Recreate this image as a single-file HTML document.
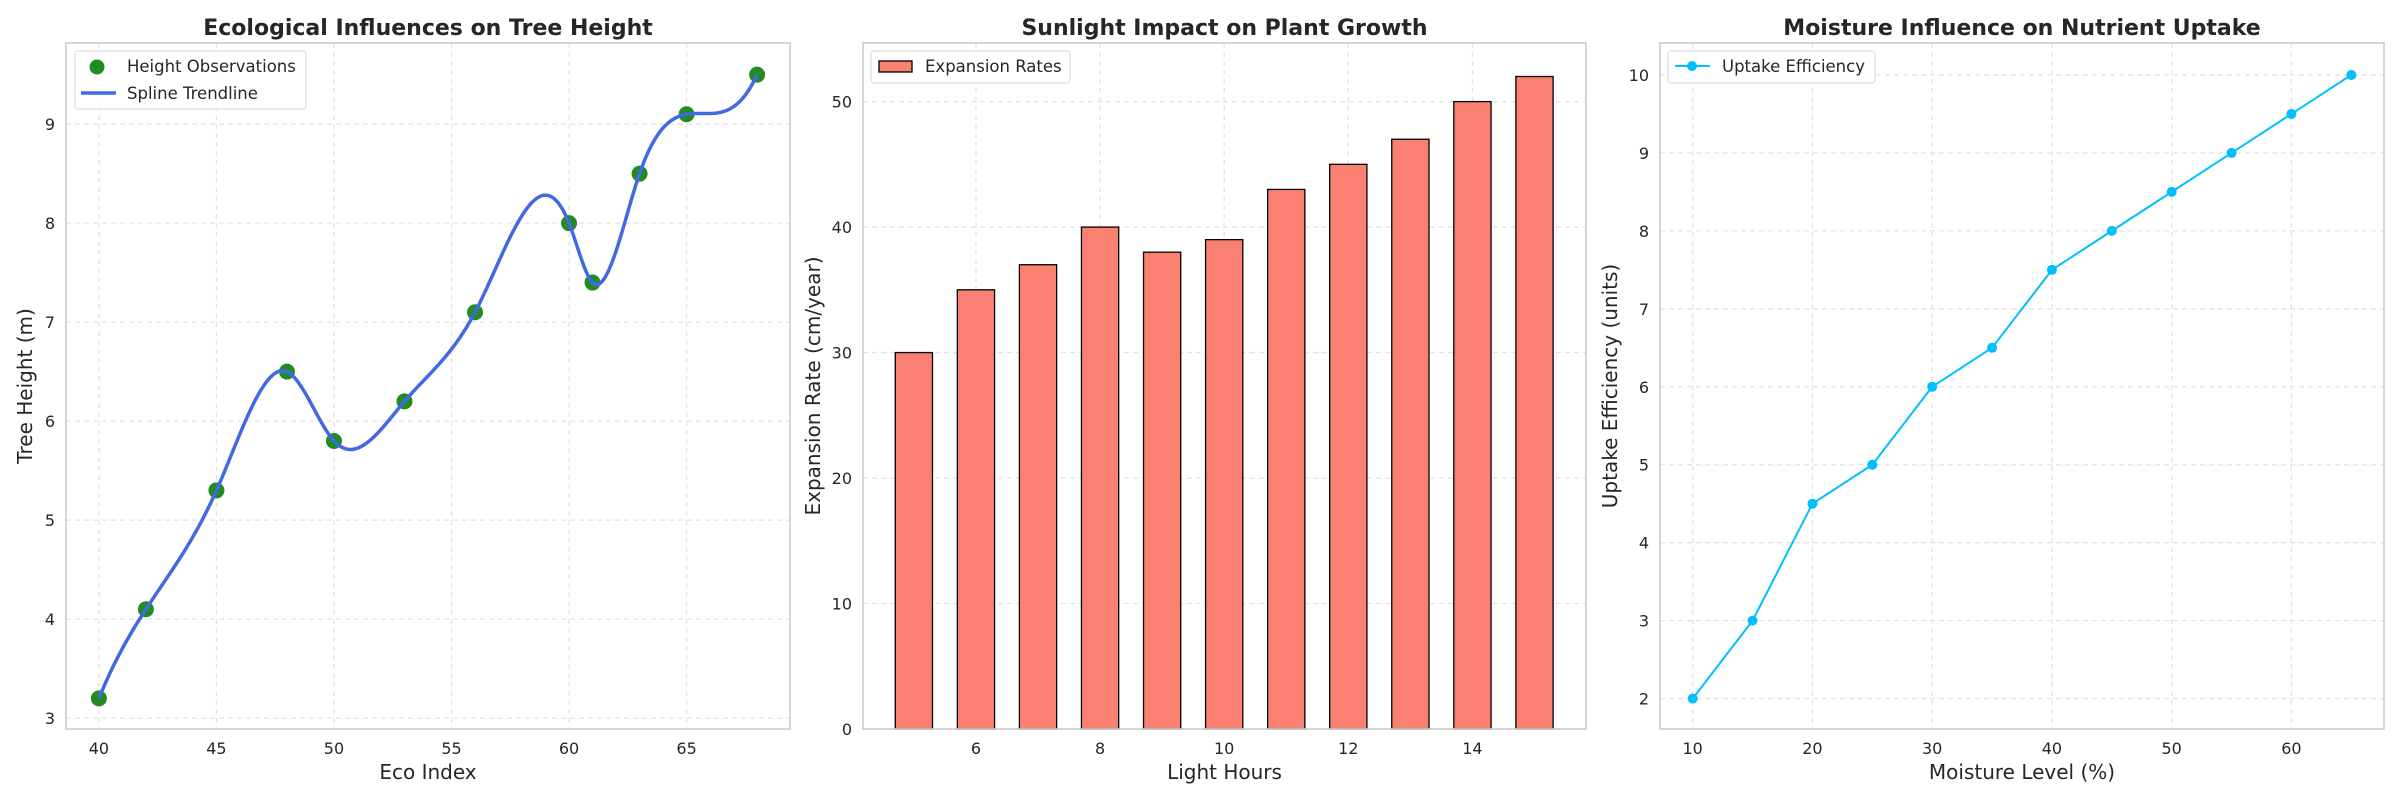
<!DOCTYPE html>
<html><head><meta charset="utf-8"><style>
html,body{margin:0;padding:0;background:#fff;}
svg{display:block;font-family:"DejaVu Sans","Liberation Sans",sans-serif;}
</style></head><body>
<svg id="fig" width="2400" height="800" viewBox="0 0 2400 800" xmlns="http://www.w3.org/2000/svg"></svg>
<script>
// Panel 1 data
const ecoIndex = [40,42,45,48,50,53,56,60,61,63,65,68];
const treeHeight = [3.2,4.1,5.3,6.5,5.8,6.2,7.1,8.0,7.4,8.5,9.1,9.5];
const p1XTicks = [40,45,50,55,60,65];
const p1YTicks = [3,4,5,6,7,8,9];
// Panel 2 data
const lightHours = [5,6,7,8,9,10,11,12,13,14,15];
const expansionRates = [30,35,37,40,38,39,43,45,47,50,52];
const p2XTicks = [6,8,10,12,14];
const p2YTicks = [0,10,20,30,40,50];
// Panel 3 data
const moistureLevel = [10,15,20,25,30,35,40,45,50,55,60,65];
const uptakeEfficiency = [2,3,4.5,5,6,6.5,7.5,8,8.5,9,9.5,10];
const p3XTicks = [10,20,30,40,50,60];
const p3YTicks = [2,3,4,5,6,7,8,9,10];

const NS="http://www.w3.org/2000/svg";
const svg=document.getElementById('fig');
function el(tag,attrs,parent,text){const e=document.createElementNS(NS,tag);for(const k in attrs)e.setAttribute(k,attrs[k]);if(text!==undefined)e.textContent=text;(parent||svg).appendChild(e);return e;}

function makeAxes(cfg){
  const g=el('g',{});
  
  
  const sx=v=>cfg.L+(v-cfg.x0)/(cfg.x1-cfg.x0)*(cfg.R-cfg.L);
  const sy=v=>cfg.B-(v-cfg.y0)/(cfg.y1-cfg.y0)*(cfg.B-cfg.T);
  cfg.xt.forEach(t=>{
    const l=el('line',{x1:sx(t),x2:sx(t),y1:cfg.T,y2:cfg.B,stroke:'#e3e3e3','stroke-width':1.3,'stroke-dasharray':'5,4'},g);
    
    
    const tx=el('text',{x:sx(t),y:754,'text-anchor':'middle','font-size':16,fill:'#262626'},g,String(t));
    
    
  });
  cfg.yt.forEach(t=>{
    const l=el('line',{x1:cfg.L,x2:cfg.R,y1:sy(t),y2:sy(t),stroke:'#e3e3e3','stroke-width':1.3,'stroke-dasharray':'5,4'},g);
    
    
    const tx=el('text',{x:cfg.L-11,y:sy(t)+6,'text-anchor':'end','font-size':16,fill:'#262626'},g,String(t));
    
    
  });
  const tt=el('text',{x:(cfg.L+cfg.R)/2,y:35,'text-anchor':'middle','font-size':22,'font-weight':'bold',fill:'#262626'},g,cfg.title);
  
  
  const xl=el('text',{x:(cfg.L+cfg.R)/2,y:779,'text-anchor':'middle','font-size':20,fill:'#262626'},g,cfg.xlabel);
  
  
  const yl=el('text',{x:0,y:0,'text-anchor':'middle','font-size':20,fill:'#262626',transform:`translate(${cfg.ylx},${(cfg.T+cfg.B)/2}) rotate(-90)`},g,cfg.ylabel);
  
  
  return {g,sx,sy,cfg};
}
function frame(a){
  const r=el('rect',{x:a.cfg.L,y:a.cfg.T,width:a.cfg.R-a.cfg.L,height:a.cfg.B-a.cfg.T,fill:'none',stroke:'#cccccc','stroke-width':1.6},a.g);
  
  
}

// not-a-knot cubic spline
function spline(xs,ys){
  const n=xs.length,h=[];for(let i=0;i<n-1;i++)h.push(xs[i+1]-xs[i]);
  const A=[];const b=[];for(let i=0;i<n;i++){A.push(new Array(n).fill(0));b.push(0);}
  A[0][0]=h[1];A[0][1]=-(h[0]+h[1]);A[0][2]=h[0];
  A[n-1][n-3]=h[n-2];A[n-1][n-2]=-(h[n-3]+h[n-2]);A[n-1][n-1]=h[n-3];
  for(let i=1;i<n-1;i++){A[i][i-1]=h[i-1];A[i][i]=2*(h[i-1]+h[i]);A[i][i+1]=h[i];
    b[i]=6*((ys[i+1]-ys[i])/h[i]-(ys[i]-ys[i-1])/h[i-1]);}
  for(let c=0;c<n;c++){let p=c;for(let r=c+1;r<n;r++)if(Math.abs(A[r][c])>Math.abs(A[p][c]))p=r;
    [A[c],A[p]]=[A[p],A[c]];[b[c],b[p]]=[b[p],b[c]];
    for(let r=c+1;r<n;r++){const f=A[r][c]/A[c][c];for(let k=c;k<n;k++)A[r][k]-=f*A[c][k];b[r]-=f*b[c];}}
  const M=new Array(n).fill(0);for(let i=n-1;i>=0;i--){let s=b[i];for(let k=i+1;k<n;k++)s-=A[i][k]*M[k];M[i]=s/A[i][i];}
  return x=>{let i=0;while(i<n-2&&x>xs[i+1])i++;const t=x-xs[i],u=xs[i+1]-x,hh=h[i];
    return M[i]*u*u*u/(6*hh)+M[i+1]*t*t*t/(6*hh)+(ys[i]/hh-M[i]*hh/6)*u+(ys[i+1]/hh-M[i+1]*hh/6)*t;};
}

// Panel 1
const a1=makeAxes({name:'tree-height-chart',L:66,R:790,T:43,B:729,x0:38.6,x1:69.4,y0:2.89,y1:9.82,xt:p1XTicks,yt:p1YTicks,
  title:'Ecological Influences on Tree Height',xlabel:'Eco Index',ylabel:'Tree Height (m)',ylx:32});
(function(){
  const f=spline(ecoIndex,treeHeight);const x0=ecoIndex[0],x1=ecoIndex[ecoIndex.length-1];let d='';
  for(let k=0;k<=400;k++){const x=x0+(x1-x0)*k/400;d+=(k?'L':'M')+a1.sx(x).toFixed(2)+','+a1.sy(f(x)).toFixed(2);}
  ecoIndex.forEach((x,i)=>{const c=el('circle',{cx:a1.sx(x),cy:a1.sy(treeHeight[i]),r:8,fill:'#228b22'},a1.g);
    
    });
  const p=el('path',{d,fill:'none',stroke:'#4169e1','stroke-width':3.5},a1.g);
  
  
  frame(a1);
  const lg=el('g',{},a1.g);
  
  
  el('rect',{x:75,y:51,width:231,height:58,rx:3,fill:'#fff','fill-opacity':0.85,stroke:'#dddddd','stroke-width':1.2},lg);
  el('circle',{cx:97,cy:67,r:7.5,fill:'#228b22'},lg);
  el('text',{x:127,y:72,'font-size':16.5,fill:'#262626'},lg,'Height Observations');
  el('line',{x1:81,x2:116,y1:93,y2:93,stroke:'#4169e1','stroke-width':3.5},lg);
  el('text',{x:127,y:99,'font-size':16.5,fill:'#262626'},lg,'Spline Trendline');
})();

// Panel 2
const a2=makeAxes({name:'plant-growth-chart',L:863,R:1586,T:43,B:729,x0:4.18,x1:15.83,y0:0,y1:54.67,xt:p2XTicks,yt:p2YTicks,
  title:'Sunlight Impact on Plant Growth',xlabel:'Light Hours',ylabel:'Expansion Rate (cm/year)',ylx:820});
(function(){
  lightHours.forEach((x,i)=>{const x0=a2.sx(x-0.3),x1=a2.sx(x+0.3),y=a2.sy(expansionRates[i]);
    const r=el('rect',{x:x0,y:y,width:x1-x0,height:a2.sy(0)-y,fill:'#fa8072',stroke:'#000','stroke-width':1.3},a2.g);
    
    });
  frame(a2);
  const lg=el('g',{},a2.g);
  
  
  el('rect',{x:871,y:51,width:199,height:32,rx:3,fill:'#fff','fill-opacity':0.85,stroke:'#dddddd','stroke-width':1.2},lg);
  el('rect',{x:879,y:61,width:33,height:11,fill:'#fa8072',stroke:'#000','stroke-width':1.3},lg);
  el('text',{x:925,y:72,'font-size':16.5,fill:'#262626'},lg,'Expansion Rates');
})();

// Panel 3
const a3=makeAxes({name:'nutrient-uptake-chart',L:1660,R:2384,T:43,B:729,x0:7.27,x1:67.73,y0:1.61,y1:10.41,xt:p3XTicks,yt:p3YTicks,
  title:'Moisture Influence on Nutrient Uptake',xlabel:'Moisture Level (%)',ylabel:'Uptake Efficiency (units)',ylx:1617});
(function(){
  const d=moistureLevel.map((x,i)=>(i?'L':'M')+a3.sx(x)+','+a3.sy(uptakeEfficiency[i])).join('');
  const p=el('path',{d,fill:'none',stroke:'#00bfff','stroke-width':2},a3.g);
  
  
  moistureLevel.forEach((x,i)=>{const c=el('circle',{cx:a3.sx(x),cy:a3.sy(uptakeEfficiency[i]),r:5,fill:'#00bfff'},a3.g);
    
    });
  frame(a3);
  const lg=el('g',{},a3.g);
  
  
  el('rect',{x:1668,y:51,width:207,height:32,rx:3,fill:'#fff','fill-opacity':0.85,stroke:'#dddddd','stroke-width':1.2},lg);
  el('line',{x1:1675,x2:1710,y1:66,y2:66,stroke:'#00bfff','stroke-width':2},lg);
  el('circle',{cx:1692,cy:66,r:5,fill:'#00bfff'},lg);
  el('text',{x:1722,y:72,'font-size':16.5,fill:'#262626'},lg,'Uptake Efficiency');
})();
</script>
</body></html>
